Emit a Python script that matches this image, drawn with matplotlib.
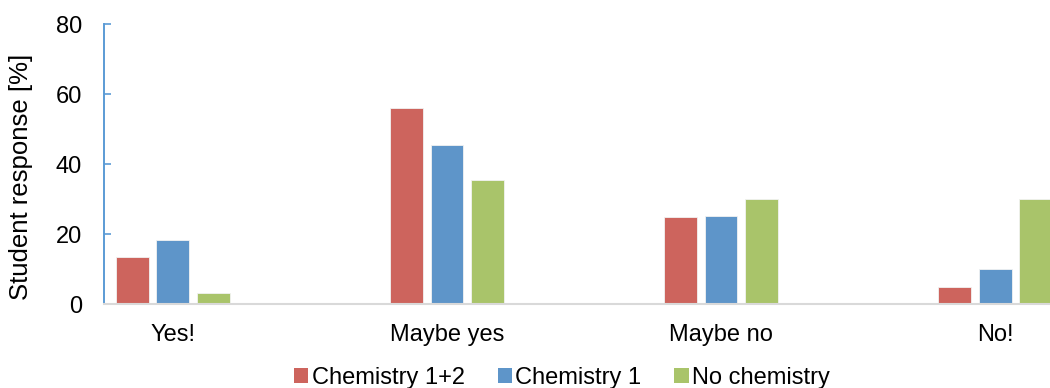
import matplotlib
matplotlib.use("Agg")
import matplotlib.pyplot as plt
from matplotlib.patches import Patch
import numpy as np

plt.rcParams['font.family'] = ['Liberation Sans', 'DejaVu Sans']

categories = ["Yes!", "Maybe yes", "Maybe no", "No!"]
series_names = ["Chemistry 1+2", "Chemistry 1", "No chemistry"]
chem_1_2 = [13.5, 56.0, 25.0, 5.0]
chem_1 = [18.5, 45.5, 25.3, 10.0]
no_chem = [3.3, 35.5, 30.2, 30.2]
y_ticks = [0, 20, 40, 60, 80]

colors = ["#CD645D", "#5E95C9", "#A9C46A"]

fig = plt.figure(figsize=(10.5, 3.88), dpi=100)
ax = fig.add_axes([104 / 1050, 1 - 304.3 / 388, 1 - 104 / 1050, (304.3 - 24.3) / 388])

x = np.arange(len(categories))
width = 0.1204
step = 0.147
for i, (vals, col) in enumerate(zip([chem_1_2, chem_1, no_chem], colors)):
    ax.bar(x + (i - 1) * step, vals, width=width, color=col,
           edgecolor="#F2F2F2", linewidth=0.6, zorder=2)

ax.set_xlim(-0.2518, 3.2007)
ax.set_ylim(0, 80)
ax.set_yticks(y_ticks)
ax.set_xticks(x)
ax.set_xticklabels(categories)

fs = 17
ax.tick_params(axis='y', direction='in', length=5, width=1.2, color="#5B9BD5",
               labelsize=fs, pad=16)
ax.tick_params(axis='x', length=0, labelsize=fs, pad=14)

for s in ["top", "right"]:
    ax.spines[s].set_visible(False)
ax.spines["left"].set_color("#5B9BD5")
ax.spines["left"].set_linewidth(1.4)
ax.spines["bottom"].set_color("#D9D9D9")
ax.spines["bottom"].set_linewidth(1.5)

ax.set_ylabel("Student response [%]", fontsize=18.5)
ax.yaxis.set_label_coords(-(104 - 33) / 946, 0.455)

handles = [Patch(facecolor=c, edgecolor="none") for c in colors]
fig.legend(handles, series_names, loc="center", bbox_to_anchor=(0.5352, 0.026),
           ncol=3, frameon=False, fontsize=fs, handlelength=0.6, handleheight=0.6,
           handletextpad=0.15, columnspacing=1.4, borderaxespad=0)

fig.savefig("out.png", dpi=100)
